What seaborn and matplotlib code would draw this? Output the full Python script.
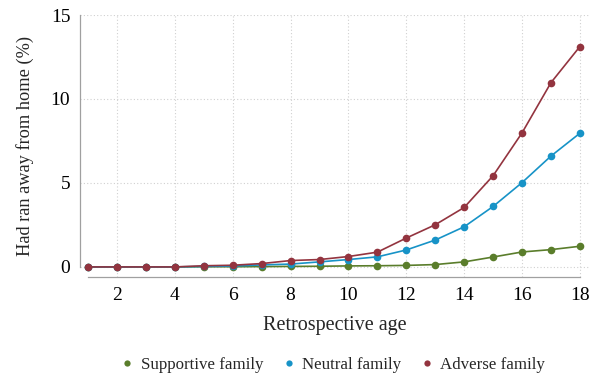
import numpy as np
import pandas as pd
import seaborn as sns
import matplotlib
matplotlib.use("Agg")
import matplotlib.pyplot as plt
from matplotlib.lines import Line2D
from matplotlib.ticker import MultipleLocator

ages = list(range(1, 19))
supportive = [0.0, 0.0, 0.0, 0.0, 0.01, 0.01, 0.02, 0.03, 0.04, 0.06, 0.07, 0.09, 0.14, 0.30, 0.59, 0.89, 1.03, 1.23]
neutral = [0.0, 0.0, 0.0, 0.0, 0.03, 0.05, 0.12, 0.17, 0.30, 0.44, 0.60, 1.01, 1.60, 2.39, 3.60, 5.02, 6.60, 7.96]
adverse = [0.0, 0.0, 0.0, 0.0, 0.07, 0.10, 0.20, 0.38, 0.44, 0.62, 0.88, 1.72, 2.51, 3.54, 5.43, 7.98, 10.97, 13.12]
groups = ["Supportive family", "Neutral family", "Adverse family"]
colors = ["#5a7d2b", "#1793c7", "#93343f"]

df = pd.DataFrame({
    "age": ages * 3,
    "value": supportive + neutral + adverse,
    "group": [groups[0]] * 18 + [groups[1]] * 18 + [groups[2]] * 18,
})

sns.set_style("white")
plt.rcParams["font.family"] = ["Liberation Serif", "DejaVu Serif"]

fig = plt.figure(figsize=(6, 3.78), dpi=100)
ax = fig.add_axes([80 / 600, 1 - 277 / 378, 510 / 600, 262 / 378])

sns.lineplot(data=df, x="age", y="value", hue="group", hue_order=groups,
             palette=colors, marker="o", markersize=5.5, markeredgewidth=0,
             linewidth=1.2, ax=ax, legend=False)

ax.set_xlim(0.72, 18.35)
ax.set_ylim(-0.6, 15)
ax.xaxis.set_major_locator(MultipleLocator(2))
ax.xaxis.set_minor_locator(MultipleLocator(1))
ax.set_yticks([0, 5, 10, 15])
ax.grid(True, which="major", linestyle=(0, (1, 2)), color="#d0d0d0", linewidth=0.8)
ax.set_axisbelow(True)

for s in ["top", "right"]:
    ax.spines[s].set_visible(False)
for s in ["left", "bottom"]:
    ax.spines[s].set_color("#a0a0a0")
    ax.spines[s].set_linewidth(0.9)
ax.spines["left"].set_bounds(0, 15)
ax.spines["bottom"].set_bounds(1, 18)

ax.tick_params(axis="both", which="both", direction="out", length=4, width=0.8,
               color="#a0a0a0", labelsize=14, labelcolor="black", pad=3)
ax.tick_params(axis="x", which="minor", length=4)

ax.set_xlabel("Retrospective age", fontsize=14.5, labelpad=9)
ax.set_ylabel("Had ran away from home (%)", fontsize=13.2, labelpad=12)

handles = [Line2D([0], [0], marker="o", linestyle="none", color=c,
                  markersize=4.5, markeredgewidth=0) for c in colors]
fig.legend(handles, groups, loc="center", bbox_to_anchor=(0.553, 1 - 365 / 378),
           ncol=3, frameon=False, fontsize=12.2, handlelength=1.0,
           handletextpad=0.3, columnspacing=1.0)

fig.savefig("out.png", dpi=100)
